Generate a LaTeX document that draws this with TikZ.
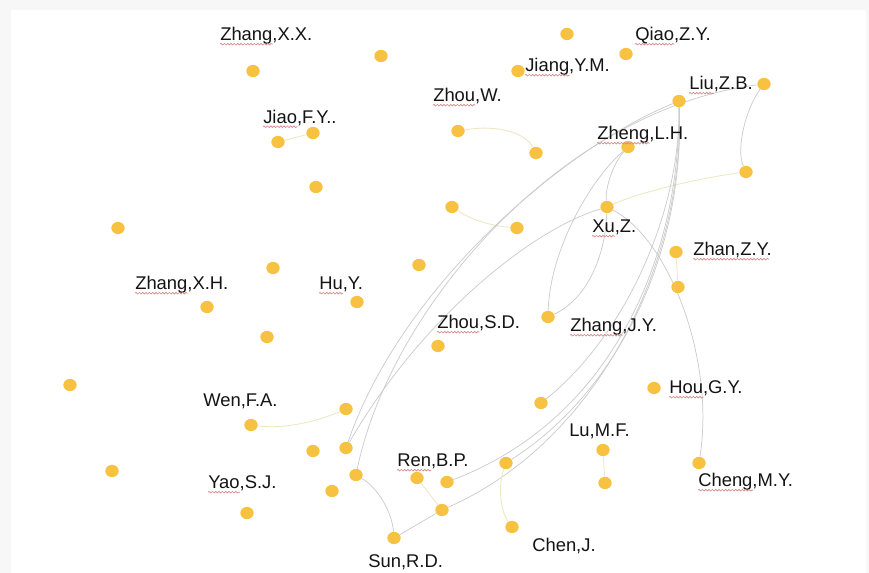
\documentclass[tikz,border=0pt]{standalone}
\usepackage{fontspec}
\setmainfont{Liberation Sans}
\usetikzlibrary{shapes.geometric,decorations.pathmorphing}
\definecolor{dotc}{RGB}{247,194,66}
\definecolor{edgeg}{RGB}{204,204,204}
\definecolor{edgey}{RGB}{239,231,196}
\definecolor{wavec}{RGB}{212,135,135}
\newcommand\wv[3]{\node[lbl] (#1) at (#2.base west) {\phantom{#3}};
  \draw[wavy] ([yshift=-2.4pt]#1.base west) -- ([yshift=-2.4pt]#1.base east);}
\pgfdeclarelayer{bg}
\pgfdeclarelayer{paper}
\pgfsetlayers{paper,bg,main}
\tikzset{
  dot/.style={ellipse, fill=dotc, inner sep=0pt, minimum width=10pt, minimum height=9.2pt},
  lbl/.style={anchor=base west, inner sep=0pt, font=\fontsize{13.8pt}{16pt}\selectfont, text=black!92},
  eg/.style={draw=edgeg, line width=0.55pt},
  ey/.style={draw=edgey, line width=0.65pt},
  wavy/.style={draw=wavec, line width=0.5pt, decorate, decoration={snake, amplitude=0.6pt, segment length=2.5pt}}
}
\begin{document}
\begin{tikzpicture}[x=0.75pt,y=-0.75pt]
\useasboundingbox (0,0) rectangle (869,573);
\begin{pgfonlayer}{paper}
\fill[black!3] (0,0) rectangle (869,573);
\fill[white] (11,10) rectangle (866,573);
\end{pgfonlayer}

% dots
\node[dot] (n1) at (567,34) {};
\node[dot] (qiao) at (626,54) {};
\node[dot] (jiang) at (518,71) {};
\node[dot] (zhangxx) at (253,71) {};
\node[dot] (n5) at (381,56) {};
\node[dot] (liu) at (764,84) {};
\node[dot] (n7) at (679,101) {};
\node[dot] (zhouw) at (458,131) {};
\node[dot] (n9) at (536,153) {};
\node[dot] (zheng) at (628,147) {};
\node[dot] (jiao) at (313,133) {};
\node[dot] (n12) at (278,142) {};
\node[dot] (n13) at (316,187) {};
\node[dot] (n14) at (746,172) {};
\node[dot] (n15) at (452,207) {};
\node[dot] (xu) at (607,207) {};
\node[dot] (n17) at (517,228) {};
\node[dot] (n18) at (118,228) {};
\node[dot] (zhan) at (676,252) {};
\node[dot] (n20) at (273,268) {};
\node[dot] (n21) at (419,265) {};
\node[dot] (zhangxh) at (207,307) {};
\node[dot] (hu) at (357,302) {};
\node[dot] (n24) at (678,287) {};
\node[dot] (n25) at (548,317) {};
\node[dot] (zhousd) at (438,346) {};
\node[dot] (n27) at (267,337) {};
\node[dot] (n28) at (70,385) {};
\node[dot] (hou) at (654,388) {};
\node[dot] (n30) at (541,403) {};
\node[dot] (wen) at (251,425) {};
\node[dot] (n32) at (346,409) {};
\node[dot] (n33) at (313,451) {};
\node[dot] (n34) at (346,448) {};
\node[dot] (n35) at (112,471) {};
\node[dot] (n36) at (356,475) {};
\node[dot] (ren) at (417,478) {};
\node[dot] (n38) at (447,482) {};
\node[dot] (n39) at (506,463) {};
\node[dot] (lu) at (603,450) {};
\node[dot] (n41) at (605,483) {};
\node[dot] (cheng) at (699,463) {};
\node[dot] (yao) at (247,513) {};
\node[dot] (n44) at (332,491) {};
\node[dot] (n45) at (442,510) {};
\node[dot] (n46) at (512,527) {};
\node[dot] (sun) at (394,538) {};

% labels
\node[lbl] (lzhangxx) at (220,41) {Zhang,X.X.};
\node[lbl] (ljiao) at (263,123.5) {Jiao,F.Y..};
\node[lbl] (lqiao) at (635,41) {Qiao,Z.Y.};
\node[lbl] (ljiang) at (525,72) {Jiang,Y.M.};
\node[lbl] (lzhouw) at (433,102) {Zhou,W.};
\node[lbl] (lliu) at (689,90) {Liu,Z.B.};
\node[lbl] (lzheng) at (597,140) {Zheng,L.H.};
\node[lbl] (lxu) at (592,233) {Xu,Z.};
\node[lbl] (lzhan) at (693,256) {Zhan,Z.Y.};
\node[lbl] (lzhangxh) at (135,290) {Zhang,X.H.};
\node[lbl] (lhu) at (319,290) {Hu,Y.};
\node[lbl] (lzhousd) at (437,329) {Zhou,S.D.};
\node[lbl] (lzhangjy) at (570,332) {Zhang,J.Y.};
\node[lbl] (lhou) at (669,394) {Hou,G.Y.};
\node[lbl] (lwen) at (203,407) {Wen,F.A.};
\node[lbl] (llu) at (569,437) {Lu,M.F.};
\node[lbl] (lren) at (397,467) {Ren,B.P.};
\node[lbl] (lyao) at (208,489) {Yao,S.J.};
\node[lbl] (lcheng) at (698,487) {Cheng,M.Y.};
\node[lbl] (lchen) at (532,552) {Chen,J.};
\node[lbl] (lsun) at (368,568) {Sun,R.D.};

% spell-check squiggles
\wv{w1}{lzhangxx}{Zhang}
\wv{w2}{ljiao}{Jiao}
\wv{w3}{lqiao}{Qiao}
\wv{w4}{ljiang}{Jiang}
\wv{w5}{lzhouw}{Zhou}
\wv{w6}{lliu}{Liu}
\wv{w7}{lzheng}{Zheng}
\wv{w8}{lxu}{Xu}
\wv{w9}{lzhan}{Zhan,Z.Y}
\wv{w10}{lzhangxh}{Zhang}
\wv{w11}{lhu}{Hu}
\wv{w12}{lzhousd}{Zhou}
\wv{w13}{lzhangjy}{Zhang}
\wv{w14}{lhou}{Hou}
\wv{w15}{lren}{Ren}
\wv{w16}{lyao}{Yao}
\wv{w17}{lcheng}{Cheng}

% edges
\begin{pgfonlayer}{bg}
\draw[ey] (zhouw) .. controls (500,124) and (526,134) .. (n9);
\draw[ey] (n15) .. controls (475,222) and (495,226) .. (n17);
\draw[ey] (jiao) -- (n12);
\draw[eg] (liu) .. controls (745,110) and (736,150) .. (n14);
\draw[ey] (n14) .. controls (700,178) and (640,192) .. (xu);
\draw[eg] (n7) .. controls (560,150) and (400,290) .. (n34);
\draw[eg] (liu) .. controls (560,110) and (390,310) .. (n36);
\draw[eg] (xu) .. controls (530,230) and (420,320) .. (n34);
\draw[eg] (zheng) .. controls (590,180) and (550,250) .. (n25);
\draw[eg] (zheng) .. controls (612,165) and (605,190) .. (xu);
\draw[eg] (xu) .. controls (605,260) and (585,300) .. (n25);
\draw[eg] (xu) .. controls (670,240) and (715,360) .. (cheng);
\draw[ey] (zhan) -- (n24);
\draw[eg] (n7) .. controls (680,220) and (620,340) .. (n30);
\draw[eg] (n7) .. controls (685,250) and (620,390) .. (n39);
\draw[eg] (n7) .. controls (685,260) and (600,440) .. (n45);
\draw[eg] (n7) .. controls (680,260) and (610,420) .. (n38);
\draw[eg] (n45) -- (sun);
\draw[eg] (n36) .. controls (378,488) and (392,512) .. (sun);
\draw[ey] (ren) -- (n45);
\draw[ey] (n39) .. controls (498,485) and (500,510) .. (n46);
\draw[ey] (lu) -- (n41);
\draw[ey] (wen) .. controls (290,430) and (325,418) .. (n32);
\end{pgfonlayer}
\end{tikzpicture}
\end{document}
